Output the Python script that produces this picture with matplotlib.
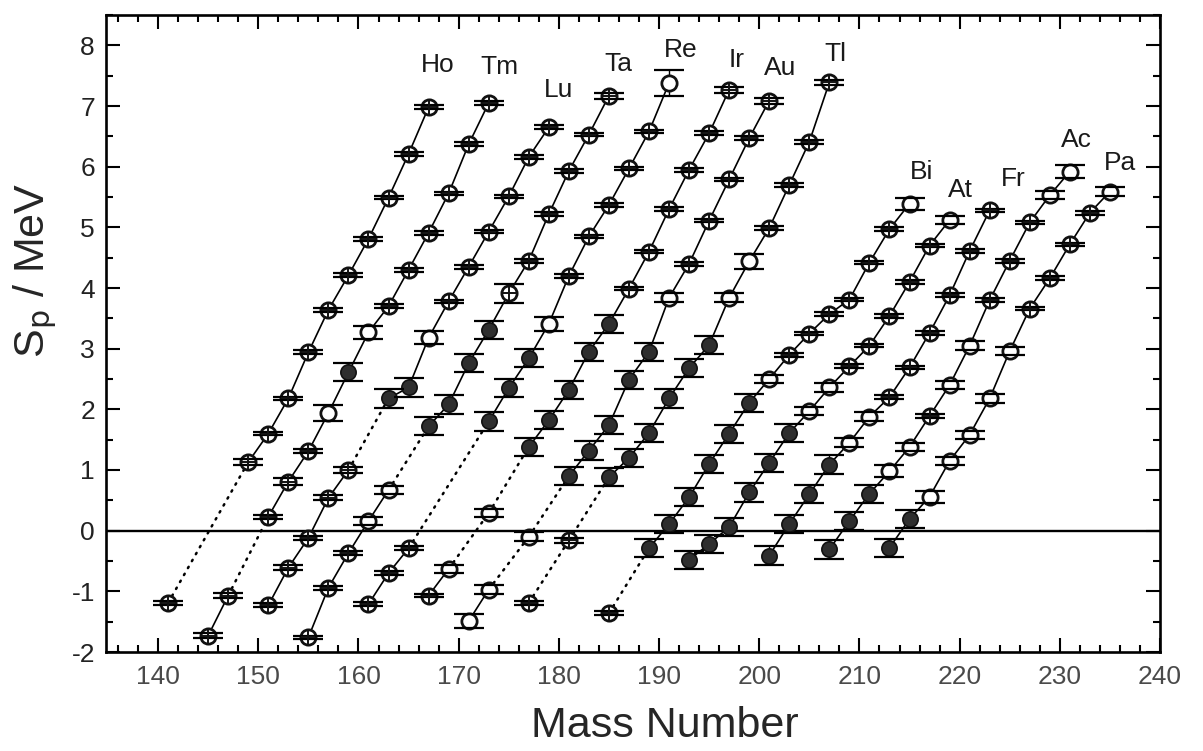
import matplotlib
matplotlib.use("Agg")
import matplotlib.pyplot as plt
from matplotlib.ticker import MultipleLocator

plt.rcParams['font.family'] = ['Liberation Sans', 'DejaVu Sans']
plt.rcParams['axes.unicode_minus'] = False

# kind codes: x = circle with cross, e = open circle (small error), o = open circle, f = filled circle
HO_A = [141, 149, 151, 153, 155, 157, 159, 161, 163, 165, 167]
HO_SP = [-1.19, 1.13, 1.60, 2.18, 2.94, 3.64, 4.21, 4.81, 5.49, 6.21, 6.98]
HO_KIND = "xxxxxxxxxxx"
HO_ERR = [0.03, 0.05, 0.03, 0.03, 0.03, 0.03, 0.03, 0.03, 0.03, 0.03, 0.03]

TM_A = [145, 147, 151, 153, 155, 157, 159, 161, 163, 165, 167, 169, 171, 173]
TM_SP = [-1.73, -1.07, 0.23, 0.81, 1.31, 1.94, 2.61, 3.27, 3.70, 4.30, 4.91, 5.56, 6.37, 7.05]
TM_KIND = "xxxxxofoxxxxxx"
TM_ERR = [0.04, 0.04, 0.03, 0.05, 0.03, 0.13, 0.15, 0.11, 0.03, 0.03, 0.03, 0.03, 0.03, 0.03]

LU_A = [151, 153, 155, 157, 159, 163, 165, 167, 169, 171, 173, 175, 177, 179]
LU_SP = [-1.23, -0.61, -0.12, 0.54, 1.00, 2.18, 2.36, 3.18, 3.78, 4.35, 4.93, 5.51, 6.16, 6.65]
LU_KIND = "xxxxxffoxxxxxx"
LU_ERR = [0.03, 0.04, 0.03, 0.04, 0.05, 0.15, 0.15, 0.11, 0.03, 0.03, 0.03, 0.03, 0.03, 0.03]

TA_A = [155, 157, 159, 161, 163, 167, 169, 171, 173, 175, 177, 179, 181, 183, 185]
TA_SP = [-1.76, -0.94, -0.37, 0.16, 0.67, 1.72, 2.08, 2.76, 3.31, 3.91, 4.45, 5.22, 5.93, 6.53, 7.17]
TA_KIND = "xxxeeffffxxxxxx"
TA_ERR = [0.03, 0.03, 0.03, 0.07, 0.07, 0.15, 0.15, 0.15, 0.15, 0.15, 0.03, 0.03, 0.03, 0.03, 0.05]

RE_A = [161, 163, 165, 173, 175, 177, 179, 181, 183, 185, 187, 189, 191]
RE_SP = [-1.21, -0.70, -0.29, 1.80, 2.35, 2.84, 3.41, 4.20, 4.85, 5.37, 5.97, 6.58, 7.38]
RE_KIND = "xxxfffoxxxxxo"
RE_ERR = [0.03, 0.03, 0.03, 0.15, 0.15, 0.15, 0.12, 0.03, 0.03, 0.03, 0.03, 0.03, 0.22]

IR_A = [167, 169, 173, 177, 179, 181, 183, 185, 187, 189, 191, 193, 195, 197]
IR_SP = [-1.07, -0.63, 0.29, 1.38, 1.82, 2.32, 2.95, 3.41, 3.99, 4.60, 5.30, 5.95, 6.55, 7.27]
IR_KIND = "xeefffffxxxxxx"
IR_ERR = [0.03, 0.07, 0.07, 0.15, 0.15, 0.15, 0.15, 0.15, 0.03, 0.03, 0.03, 0.03, 0.03, 0.05]

AU_A = [171, 173, 177, 181, 183, 185, 187, 189, 191, 193, 195, 197, 199, 201]
AU_SP = [-1.49, -0.97, -0.10, 0.90, 1.32, 1.74, 2.49, 2.95, 3.84, 4.40, 5.11, 5.79, 6.47, 7.09]
AU_KIND = "oeefffffexxxxx"
AU_ERR = [0.12, 0.07, 0.07, 0.15, 0.15, 0.15, 0.15, 0.15, 0.07, 0.03, 0.03, 0.03, 0.03, 0.05]

TL_A = [177, 181, 185, 187, 189, 191, 193, 195, 197, 199, 201, 203, 205, 207]
TL_SP = [-1.19, -0.16, 0.88, 1.20, 1.61, 2.18, 2.68, 3.06, 3.84, 4.44, 4.99, 5.70, 6.41, 7.39]
TL_KIND = "xxffffffeoxxxx"
TL_ERR = [0.03, 0.04, 0.15, 0.15, 0.15, 0.15, 0.15, 0.15, 0.07, 0.12, 0.03, 0.03, 0.03, 0.04]

BI_A = [185, 189, 191, 193, 195, 197, 199, 201, 203, 205, 207, 209, 211, 213, 215]
BI_SP = [-1.36, -0.29, 0.11, 0.55, 1.10, 1.60, 2.11, 2.50, 2.90, 3.25, 3.57, 3.81, 4.42, 4.97, 5.39]
BI_KIND = "xffffffexxxxxxo"
BI_ERR = [0.03, 0.15, 0.15, 0.15, 0.15, 0.15, 0.15, 0.07, 0.03, 0.03, 0.03, 0.03, 0.03, 0.03, 0.10]

AT_A = [193, 195, 197, 199, 201, 203, 205, 207, 209, 211, 213, 215, 217, 219]
AT_SP = [-0.48, -0.22, 0.06, 0.63, 1.12, 1.61, 1.97, 2.36, 2.71, 3.05, 3.54, 4.10, 4.70, 5.12]
AT_KIND = "ffffffeexxxxxe"
AT_ERR = [0.15, 0.15, 0.15, 0.15, 0.15, 0.15, 0.07, 0.07, 0.03, 0.03, 0.03, 0.03, 0.03, 0.07]

FR_A = [201, 203, 205, 207, 209, 211, 213, 215, 217, 219, 221, 223]
FR_SP = [-0.41, 0.11, 0.60, 1.09, 1.45, 1.88, 2.20, 2.69, 3.26, 3.88, 4.61, 5.28]
FR_KIND = "ffffeexxxxxx"
FR_ERR = [0.15, 0.15, 0.15, 0.15, 0.07, 0.07, 0.03, 0.03, 0.03, 0.03, 0.03, 0.03]

AC_A = [207, 209, 211, 213, 215, 217, 219, 221, 223, 225, 227, 229, 231]
AC_SP = [-0.31, 0.16, 0.61, 0.98, 1.38, 1.89, 2.40, 3.05, 3.80, 4.45, 5.08, 5.53, 5.92]
AC_KIND = "fffoexeexxxeo"
AC_ERR = [0.15, 0.15, 0.15, 0.10, 0.07, 0.03, 0.07, 0.07, 0.03, 0.03, 0.03, 0.07, 0.10]

PA_A = [213, 215, 217, 219, 221, 223, 225, 227, 229, 231, 233, 235]
PA_SP = [-0.28, 0.19, 0.56, 1.15, 1.58, 2.18, 2.96, 3.66, 4.16, 4.72, 5.24, 5.59]
PA_KIND = "ffoeeeexxxxe"
PA_ERR = [0.15, 0.15, 0.10, 0.07, 0.07, 0.07, 0.07, 0.03, 0.03, 0.03, 0.03, 0.07]

ELEMENTS = ["Ho", "Tm", "Lu", "Ta", "Re", "Ir", "Au", "Tl", "Bi", "At", "Fr", "Ac", "Pa"]

X_TICKS = [140, 150, 160, 170, 180, 190, 200, 210, 220, 230, 240]
Y_TICKS = [-2, -1, 0, 1, 2, 3, 4, 5, 6, 7, 8]

chains = [
    (HO_A, HO_SP, HO_KIND, HO_ERR),
    (TM_A, TM_SP, TM_KIND, TM_ERR),
    (LU_A, LU_SP, LU_KIND, LU_ERR),
    (TA_A, TA_SP, TA_KIND, TA_ERR),
    (RE_A, RE_SP, RE_KIND, RE_ERR),
    (IR_A, IR_SP, IR_KIND, IR_ERR),
    (AU_A, AU_SP, AU_KIND, AU_ERR),
    (TL_A, TL_SP, TL_KIND, TL_ERR),
    (BI_A, BI_SP, BI_KIND, BI_ERR),
    (AT_A, AT_SP, AT_KIND, AT_ERR),
    (FR_A, FR_SP, FR_KIND, FR_ERR),
    (AC_A, AC_SP, AC_KIND, AC_ERR),
    (PA_A, PA_SP, PA_KIND, PA_ERR),
]

# label placement (offset from top point of each chain, in data units)
label_offsets = [(0.9, 0.69), (1.05, 0.59), (1.0, 0.62), (0.9, 0.53), (1.2, 0.55),
                 (0.7, 0.49), (1.1, 0.53), (0.6, 0.47), (1.2, 0.53), (1.1, 0.49),
                 (2.4, 0.52), (0.7, 0.52), (1.0, 0.47)]

W, H = 1203, 751
fig = plt.figure(figsize=(W / 100, H / 100), dpi=100)
ax = fig.add_axes([106 / W, 1 - 652 / H, (1160 - 106) / W, (652 - 15) / H])
ax.set_xlim(134.8, 240)
ax.set_ylim(-2, 8.5)

MS = 11.0
CAP = 10.5

ax.axhline(0, color='k', lw=1.7, zorder=1)

for (A, sp, kinds, err) in chains:
    for i in range(len(A) - 1):
        if A[i + 1] - A[i] == 2:
            ax.plot(A[i:i + 2], sp[i:i + 2], color='k', lw=1.2, ls='-', zorder=1)
        else:
            ax.plot(A[i:i + 2], sp[i:i + 2], color='k', lw=1.8, ls=(0, (0.6, 2.6)),
                    dash_capstyle='round', zorder=1)
    eb = ax.errorbar(A, sp, yerr=err, fmt='none', ecolor='k', elinewidth=1.0,
                     capsize=CAP, capthick=1.6, zorder=2)
    for cl in eb[1]:
        cl.set_zorder(4)
    for a, s, k in zip(A, sp, kinds):
        if k == 'f':
            ax.plot([a], [s], 'o', ms=MS, mfc='#2e2e2e', mec='#111111', mew=1.2, zorder=3)
        else:
            ax.plot([a], [s], 'o', ms=MS, mfc='white', mec='#111111', mew=2.0, zorder=3)
            if k == 'x':
                ax.plot([a], [s], '+', ms=MS * 0.92, mec='#111111', mew=1.4, zorder=5)

for name, (A, sp, kinds, err), (dx, dy) in zip(ELEMENTS, chains, label_offsets):
    ax.text(A[-1] + dx, sp[-1] + dy, name, fontsize=19, ha='center', va='center', color='#1a1a1a')

ax.set_xticks(X_TICKS)
ax.set_yticks(Y_TICKS)
ax.xaxis.set_minor_locator(MultipleLocator(2))
ax.yaxis.set_minor_locator(MultipleLocator(0.5))
ax.tick_params(which='both', direction='in', top=True, right=True, width=1.5)
ax.tick_params(which='major', length=10)
ax.tick_params(which='minor', length=5)
ax.tick_params(axis='x', labelsize=19, pad=9, labelcolor='#4a4a4a')
ax.tick_params(axis='y', labelsize=19, pad=8, labelcolor='#222222')
for sp_ in ax.spines.values():
    sp_.set_linewidth(1.9)

ax.set_xlabel("Mass Number", fontsize=31, color='#262626')
ax.xaxis.set_label_coords(0.53, -0.085)
ax.set_ylabel(r"S$_\mathrm{p}$ / MeV", fontsize=31, color='#262626')
ax.yaxis.set_label_coords(-0.045, 0.6)

fig.savefig("out.png", dpi=100)
